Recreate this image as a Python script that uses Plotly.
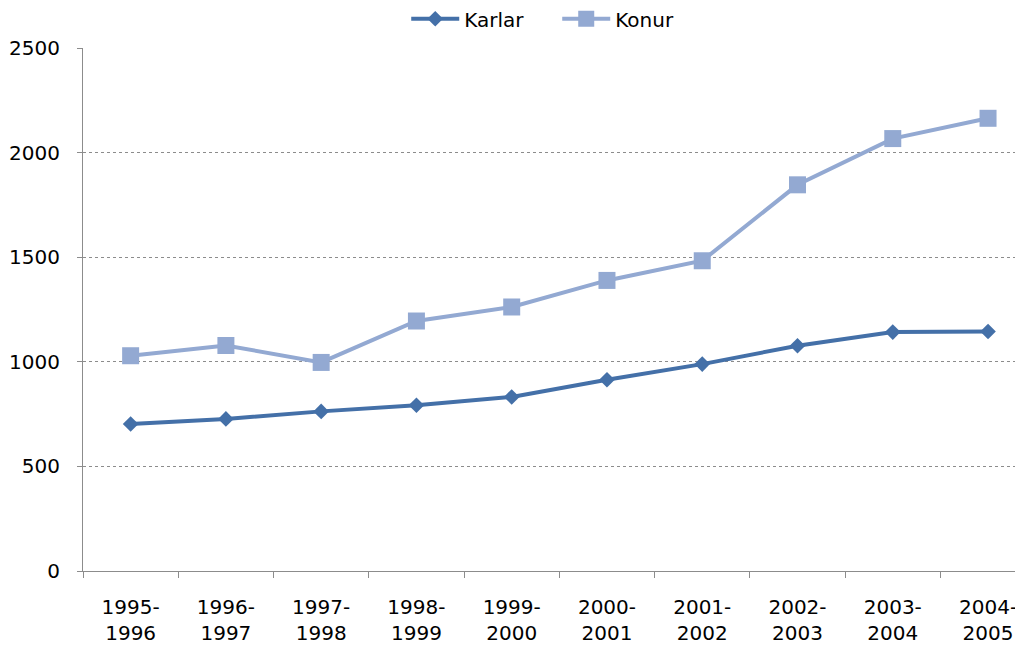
import plotly.graph_objects as go

categories = ["1995-<br>1996", "1996-<br>1997", "1997-<br>1998", "1998-<br>1999", "1999-<br>2000",
              "2000-<br>2001", "2001-<br>2002", "2002-<br>2003", "2003-<br>2004", "2004-<br>2005"]
karlar = [703, 727, 763, 792, 832, 914, 989, 1077, 1142, 1145]
konur = [1029, 1078, 997, 1195, 1262, 1389, 1483, 1846, 2067, 2164]
y_ticks = [0, 500, 1000, 1500, 2000, 2500]

fig = go.Figure()
fig.add_trace(go.Scatter(
    x=categories, y=karlar, name="Karlar", mode="lines+markers",
    line=dict(color="#4470A8", width=4),
    marker=dict(symbol="diamond", size=12, color="#4470A8"),
))
fig.add_trace(go.Scatter(
    x=categories, y=konur, name="Konur", mode="lines+markers",
    line=dict(color="#93A9D2", width=4),
    marker=dict(symbol="square", size=17, color="#93A9D2"),
))

fig.update_layout(
    width=1015, height=638,
    margin=dict(l=75, r=0, t=40, b=75, autoexpand=False),
    paper_bgcolor="white", plot_bgcolor="white",
    font=dict(family="DejaVu Sans", size=20, color="#000000"),
    showlegend=True,
    legend=dict(
        orientation="h", x=0.5045, xanchor="center", y=1.056, yanchor="middle",
        font=dict(family="DejaVu Sans", size=20),
        itemwidth=48, entrywidth=88,
    ),
    xaxis=dict(
        type="category", range=[-0.5, 9.367],
        showline=True, linecolor="#8c8c8c", linewidth=1,
        ticks="outside", ticklen=6, tickcolor="#8c8c8c", tickson="boundaries",
        showgrid=False, tickfont=dict(family="DejaVu Sans", size=20),
        ticklabelstandoff=18,
        fixedrange=True,
    ),
    yaxis=dict(
        range=[0, 2500], tickvals=y_ticks,
        showline=True, linecolor="#8c8c8c", linewidth=1,
        ticks="outside", ticklen=5, tickcolor="#8c8c8c",
        showgrid=True, gridcolor="#8c8c8c", gridwidth=1, griddash="dot",
        zeroline=False,
        tickfont=dict(family="DejaVu Sans", size=20),
        ticklabelstandoff=13,
    ),
)

fig.write_html("out.html")
